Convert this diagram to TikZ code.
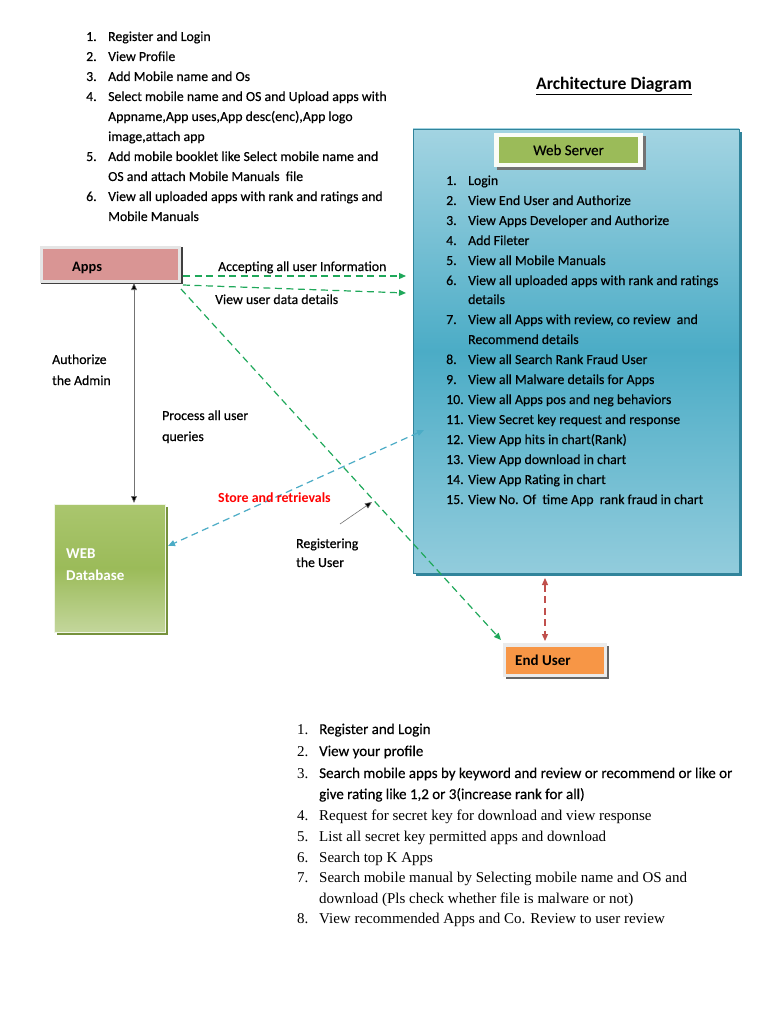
\documentclass[tikz,border=0pt]{standalone}
\usepackage{fontspec}
\setmainfont{Carlito}[UprightFeatures={FakeBold=0.35}]
\newfontfamily\serifft{Liberation Serif}
\usetikzlibrary{arrows.meta}
\definecolor{wsTop}{HTML}{A3D4E2}
\definecolor{wsMid}{HTML}{4BACC6}
\definecolor{wsBot}{HTML}{92CCDC}
\definecolor{wsShadow}{HTML}{31849B}
\definecolor{olive}{HTML}{9BBB59}
\definecolor{oliveLight}{HTML}{C3D69B}
\definecolor{oliveTop}{HTML}{AAC66E}
\definecolor{oliveDark}{HTML}{76923C}
\definecolor{appsPink}{HTML}{D99594}
\definecolor{endOrange}{HTML}{F79646}
\definecolor{arrGreen}{HTML}{1FA85A}
\definecolor{arrBlue}{HTML}{4BACC6}
\definecolor{arrRed}{HTML}{C0504D}
\definecolor{storeRed}{HTML}{FF0000}
\begin{document}
\begin{tikzpicture}[x=1pt,y=-1pt,
  txt/.style={anchor=base west, inner sep=0pt, font=\fontsize{13.8}{16}\selectfont},
  num/.style={anchor=base west, inner sep=0pt, font=\fontsize{13.8}{16}\selectfont},
  bnum/.style={anchor=base west, inner sep=0pt, font=\serifft\fontsize{15}{17}\selectfont},
  btxt/.style={anchor=base west, inner sep=0pt, font=\fontsize{15}{17}\selectfont},
  stxt/.style={anchor=base west, inner sep=0pt, font=\serifft\fontsize{15}{17}\selectfont},
  lbl/.style={anchor=base west, inner sep=0pt, font=\fontsize{13.8}{16}\selectfont},
  greenflow/.style={draw=arrGreen, line width=1.2pt, dash pattern=on 7pt off 4.5pt, -{Triangle[length=7pt,width=6pt]}},
  blueflow/.style={draw=arrBlue, line width=1.2pt, dash pattern=on 7pt off 4.5pt, {Triangle[length=7pt,width=6pt]}-{Triangle[length=7pt,width=6pt]}},
  redflow/.style={draw=arrRed, line width=1.2pt, dash pattern=on 7pt off 4.5pt, {Triangle[length=7pt,width=6pt]}-{Triangle[length=7pt,width=6pt]}},
  thinarrow/.style={draw=black!55, line width=0.6pt, {Triangle[length=7pt,width=6pt,fill=black]}-{Triangle[length=7pt,width=6pt,fill=black]}},
]
\useasboundingbox (0,0) rectangle (768,1024);
\fill[white] (0,0) rectangle (768,1024);

% ---------- top list ----------
\foreach \n/\t/\y [count=\i] in {
  1./Register and Login/41,
  2./View Profile/61,
  3./Add Mobile name and Os/81,
  4./Select mobile name and OS and Upload apps with/101,
  /{Appname,App uses,App desc(enc),App logo}/121,
  /{image,attach app}/141,
  5./Add mobile booklet like Select mobile name and/161,
  /OS and attach Mobile Manuals\ \ file/181,
  6./View all uploaded apps with rank and ratings and/201,
  /Mobile Manuals/221}{
  \node[num] (tn\i) at (86,\y) {\n};
  \node[txt] (tt\i) at (108,\y) {\t};
}

% ---------- title ----------
\node[inner sep=0pt, font=\bfseries\fontsize{17.6}{20}\selectfont] (title) at (614,86) {\underline{Architecture Diagram}};

% ---------- web server box ----------
\fill[wsShadow] (416,132) rectangle (742,576);
\shade[top color=wsTop, bottom color=wsBot, middle color=wsMid] (413,129) rectangle (739,573);
\draw[wsShadow, line width=0.4pt] (413,129) rectangle (739,573);
\node[inner sep=0pt, minimum width=0pt] (ws) at (576,351) {};
\coordinate (wsL) at (424,430);
\coordinate (wsB) at (545,578);

% web server label
\fill[black!55] (497,136) rectangle (646,170);
\fill[white!95!olive] (494,133) rectangle (643,167);
\node[fill=olive, minimum width=139pt, minimum height=26pt, inner sep=0pt,
      font=\fontsize{15}{17}\selectfont] (wslabel) at (568.5,150) {Web Server};

% web server list
\foreach \n/\t/\y [count=\i] in {
  1./Login/185,
  2./View End User and Authorize/205,
  3./View Apps Developer and Authorize/225,
  4./Add Fileter/245,
  5./View all Mobile Manuals/265,
  6./View all uploaded apps with rank and ratings/285,
  /details/304,
  7./{View all Apps with review, co review\ \ and}/324,
  /Recommend details/344,
  8./View all Search Rank Fraud User/364,
  9./View all Malware details for Apps/384,
  10./View all Apps pos and neg behaviors/404,
  11./View Secret key request and response/424,
  12./View App hits in chart(Rank)/444,
  13./View App download in chart/464,
  14./View App Rating in chart/484,
  15./View No. Of\ \ time App\ \ rank fraud in chart/504}{
  \node[num] (wn\i) at (446,\y) {\n};
  \node[txt] (wt\i) at (468,\y) {\t};
}

% ---------- Apps node ----------
\fill[black!75] (41,247) rectangle (183,284);
\fill[white!90!black] (40,246) rectangle (181,283);
\node[fill=appsPink, minimum width=135pt, minimum height=31pt, inner sep=0pt] (apps) at (110.5,264.5) {};
\node[anchor=base west, inner sep=0pt, font=\bfseries\fontsize{14.4}{16}\selectfont] (appstxt) at (72,271) {Apps};

% ---------- Web Database ----------
\fill[oliveDark] (57,507) rectangle (168,635);
\shade[top color=oliveTop, bottom color=oliveLight, middle color=olive] (54,504) rectangle (165,632);
\draw[white!85!olive, line width=0.6pt] (54,504) rectangle (165,632);
\node[inner sep=0pt] (db) at (109.5,568) {};
\coordinate (dbT) at (134,503);
\node[anchor=base west, inner sep=0pt, text=white, font=\bfseries\fontsize{15}{17}\selectfont] (dbt1) at (66,558) {WEB};
\node[anchor=base west, inner sep=0pt, text=white, font=\bfseries\fontsize{15}{17}\selectfont] (dbt2) at (66,580) {Database};

% ---------- End User ----------
\fill[black!60] (506,646) rectangle (609,679);
\fill[white!92!black] (503,643) rectangle (607,677);
\node[fill=endOrange, minimum width=98pt, minimum height=27pt, inner sep=0pt] (eu) at (555,660) {};
\node[anchor=base west, inner sep=0pt, font=\bfseries\fontsize{15}{17}\selectfont] (eutxt) at (515,665) {End User};

% ---------- connectors ----------
\coordinate (a1) at (183,276);
\coordinate (w1) at (406,276);
\coordinate (a2) at (183,285);
\coordinate (w2) at (406,293);
\coordinate (a3) at (181,289);
\coordinate (e1) at (501,640);
\coordinate (aB) at (134,283);
\coordinate (dbA) at (168,546);
\coordinate (regS) at (340,524);
\coordinate (regE) at (372,502);
\coordinate (euT) at (545,641);

\draw[greenflow] (a1) -- (w1);
\draw[greenflow] (a2) -- (w2);
\draw[greenflow] (a3) -- (e1);
\draw[thinarrow] (aB) -- (dbT);
\draw[blueflow] (wsL) -- (dbA);
\draw[redflow] (wsB) -- (euT);
\draw[black!55, line width=0.6pt, -{Triangle[length=7pt,width=6pt,fill=black]}] (regS) -- (regE);

% ---------- labels ----------
\node[lbl] (l1) at (218,271) {Accepting all user Information};
\node[lbl] (l2) at (215,304) {View user data details};
\node[lbl] (l3) at (52,364) {Authorize};
\node[lbl] (l4) at (52,385) {the Admin};
\node[lbl] (l5) at (162,420) {Process all user};
\node[lbl] (l6) at (162,441) {queries};
\node[lbl, text=storeRed, font=\bfseries\fontsize{13.9}{16}\selectfont] (l7) at (218,502) {Store and retrievals};
\node[lbl] (l8) at (296,548) {Registering};
\node[lbl] (l9) at (296,567) {the User};

% ---------- bottom list ----------
\foreach \n/\t/\y/\s [count=\i] in {
  1./Register and Login/734/btxt,
  2./View your profile/756/btxt,
  3./Search mobile apps by keyword and review or recommend or like or/778/btxt,
  /{give rating like 1,2 or 3(increase rank for all)}/799/btxt,
  4./Request for secret key for download and view response/820/stxt,
  5./List all secret key permitted apps and download/841/stxt,
  6./Search top K Apps/862/stxt,
  7./Search mobile manual by Selecting mobile name and OS and/882/stxt,
  /download (Pls check whether file is malware or not)/903/stxt,
  8./View recommended Apps and Co. Review to user review/923/stxt}{
  \node[bnum] (bn\i) at (297,\y) {\n};
  \node[\s] (bt\i) at (319,\y) {\t};
}
\end{tikzpicture}
\end{document}
